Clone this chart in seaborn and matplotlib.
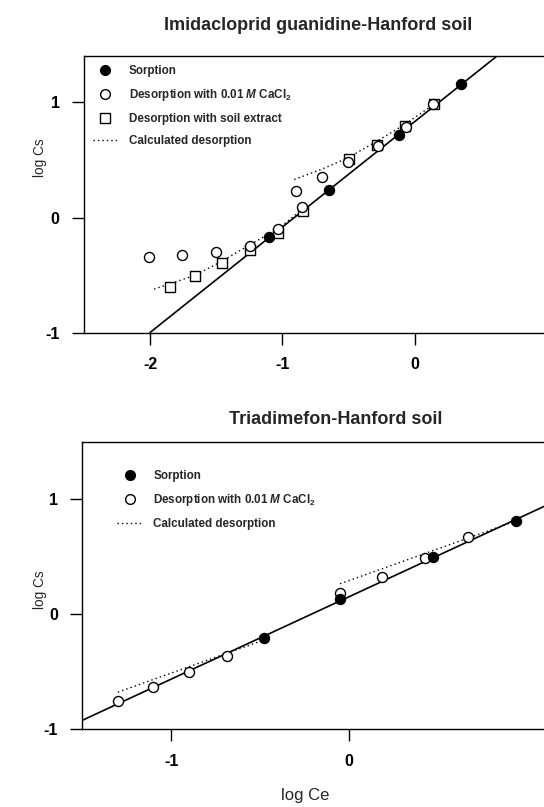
import numpy as np
import pandas as pd
import matplotlib
matplotlib.use("Agg")
import matplotlib.pyplot as plt
import seaborn as sns
from matplotlib.lines import Line2D

# ---------------- data ----------------
top_title = "Imidacloprid guanidine-Hanford soil"
top_sorp_x = [-1.10, -0.65, -0.12, 0.35]
top_sorp_y = [-0.17, 0.235, 0.715, 1.155]
top_cacl_x = [-2.01, -1.76, -1.50, -1.245, -1.035, -0.90, -0.85, -0.70, -0.50, -0.276, -0.063, 0.14]
top_cacl_y = [-0.345, -0.325, -0.295, -0.245, -0.10, 0.23, 0.09, 0.35, 0.478, 0.62, 0.785, 0.985]
top_ext_x = [-1.85, -1.66, -1.46, -1.245, -1.03, -0.845, -0.498, -0.284, -0.07, 0.144]
top_ext_y = [-0.605, -0.508, -0.396, -0.28, -0.136, 0.057, 0.505, 0.626, 0.793, 0.981]
top_calc1_x = [-1.97, -1.66, -1.46, -1.245, -1.035, -0.85]
top_calc1_y = [-0.62, -0.50, -0.38, -0.235, -0.10, 0.07]
top_calc2_x = [-0.91, -0.70, -0.50, -0.28, -0.07, 0.20]
top_calc2_y = [0.33, 0.42, 0.52, 0.665, 0.81, 1.025]
top_fit_range = [-2.0, 1.0]

bot_title = "Triadimefon-Hanford soil"
bot_sorp_x = [-0.476, -0.051, 0.472, 0.938]
bot_sorp_y = [-0.204, 0.136, 0.496, 0.815]
bot_cacl_x = [-1.30, -1.105, -0.90, -0.687, -0.051, 0.184, 0.427, 0.670]
bot_cacl_y = [-0.757, -0.632, -0.50, -0.362, 0.182, 0.32, 0.487, 0.669]
bot_calc1_x = [-1.30, -0.476]
bot_calc1_y = [-0.677, -0.222]
bot_calc2_x = [-0.051, 0.942]
bot_calc2_y = [0.265, 0.813]
bot_fit_range = [-1.5, 1.1]

x_label = "log Ce"
y_label = "log Cs"
lab_sorp = "Sorption"
lab_cacl = r"Desorption with 0.01 $\it{M}$ CaCl$_\mathbf{2}$"
lab_ext = "Desorption with soil extract"
lab_calc = "Calculated desorption"

# ---------------- style ----------------
sns.set_style("ticks")
plt.rcParams["font.family"] = ["Liberation Sans", "DejaVu Sans"]
plt.rcParams["axes.unicode_minus"] = False
plt.rcParams["mathtext.fontset"] = "custom"
plt.rcParams["mathtext.rm"] = "Liberation Sans:bold"
plt.rcParams["mathtext.it"] = "Liberation Sans:italic:bold"
plt.rcParams["mathtext.bf"] = "Liberation Sans:bold"

W, H = 544, 807
fig = plt.figure(figsize=(W / 100, H / 100), dpi=100)


def px_axes(left, right, top, bottom):
    return fig.add_axes([left / W, 1 - bottom / H, (right - left) / W, (bottom - top) / H])


ax1 = px_axes(84, 546.8, 56, 333)
ax2 = px_axes(82.3, 544.8, 441.7, 729.3)

ms = 52  # marker area


def draw_panel(ax, sx, sy, cx, cy, calcs, fit_range, ex=None, ey=None):
    # fitted sorption line
    k, b = np.polyfit(sx, sy, 1)
    fx = np.array(fit_range)
    fit_df = pd.DataFrame({"x": fx, "y": k * fx + b})
    sns.lineplot(data=fit_df, x="x", y="y", ax=ax, color="black", lw=1.2,
                 sort=False, estimator=None, zorder=2)
    for (qx, qy) in calcs:
        cdf = pd.DataFrame({"x": qx, "y": qy})
        sns.lineplot(data=cdf, x="x", y="y", ax=ax, color="black", lw=1.0,
                     linestyle=(0, (1, 2.2)), sort=False, estimator=None, zorder=2)
    if ex is not None:
        sns.scatterplot(x=ex, y=ey, ax=ax, marker="s", s=48, facecolor="white",
                        edgecolor="black", linewidth=1.0, zorder=3)
    sns.scatterplot(x=cx, y=cy, ax=ax, marker="o", s=ms, facecolor="white",
                    edgecolor="black", linewidth=1.0, zorder=4)
    sns.scatterplot(x=sx, y=sy, ax=ax, marker="o", s=ms, color="black",
                    edgecolor="black", linewidth=1.0, zorder=5)


draw_panel(ax1, top_sorp_x, top_sorp_y, top_cacl_x, top_cacl_y,
           [(top_calc1_x, top_calc1_y), (top_calc2_x, top_calc2_y)],
           top_fit_range, top_ext_x, top_ext_y)
draw_panel(ax2, bot_sorp_x, bot_sorp_y, bot_cacl_x, bot_cacl_y,
           [(bot_calc1_x, bot_calc1_y), (bot_calc2_x, bot_calc2_y)],
           bot_fit_range)

ax1.set_xlim(-2.5, 1.0)
ax1.set_ylim(-1.0, 1.4)
ax1.set_xticks([-2, -1, 0])
ax2.set_xlim(-1.5, 1.1)
ax2.set_ylim(-1.0, 1.5)
ax2.set_xticks([-1, 0])

for ax in (ax1, ax2):
    ax.set_yticks([-1, 0, 1])
    ax.tick_params(axis="both", direction="out", length=8.5, width=1.0,
                   labelsize=11.5, pad=9, colors="black")
    for t in ax.get_xticklabels() + ax.get_yticklabels():
        t.set_fontweight("bold")
    for sp in ("left", "bottom", "top"):
        ax.spines[sp].set_visible(True)
        ax.spines[sp].set_linewidth(1.0)
        ax.spines[sp].set_color("black")
    ax.spines["right"].set_visible(False)
    ax.set_xlabel("")
    ax.set_ylabel(y_label, fontsize=9.8)

ax1.yaxis.set_label_coords(-0.08, 0.632)
ax2.yaxis.set_label_coords(-0.077, 0.484)
ax2.set_xlabel(x_label, fontsize=12)
ax2.xaxis.set_label_coords(0.481, -0.204)

fig.text(318 / W, 1 - 25 / H, top_title, ha="center", va="center",
         fontsize=13, fontweight="bold")
fig.text(336 / W, 1 - 419 / H, bot_title, ha="center", va="center",
         fontsize=13, fontweight="bold")

# legends
h_sorp = Line2D([], [], marker="o", ls="none", mfc="black", mec="black", ms=7)
h_cacl = Line2D([], [], marker="o", ls="none", mfc="white", mec="black", ms=7, mew=1.0)
h_ext = Line2D([], [], marker="s", ls="none", mfc="white", mec="black", ms=6.5, mew=1.0)
h_calc = Line2D([], [], color="black", lw=1.0, ls=(0, (1, 2.2)))

leg_kw = dict(frameon=False, prop={"size": 8.4, "weight": "bold"}, handlelength=2.15,
              handletextpad=0.95, labelspacing=0.85, borderpad=0, borderaxespad=0,
              loc="upper left")
ax1.legend([h_sorp, h_cacl, h_ext, h_calc], [lab_sorp, lab_cacl, lab_ext, lab_calc],
           bbox_to_anchor=(0.019, 0.967), **leg_kw)
ax2.legend([h_sorp, h_cacl, h_calc], [lab_sorp, lab_cacl, lab_calc],
           bbox_to_anchor=(0.075, 0.9), **leg_kw)

fig.savefig("out.png", dpi=100, facecolor="white")
